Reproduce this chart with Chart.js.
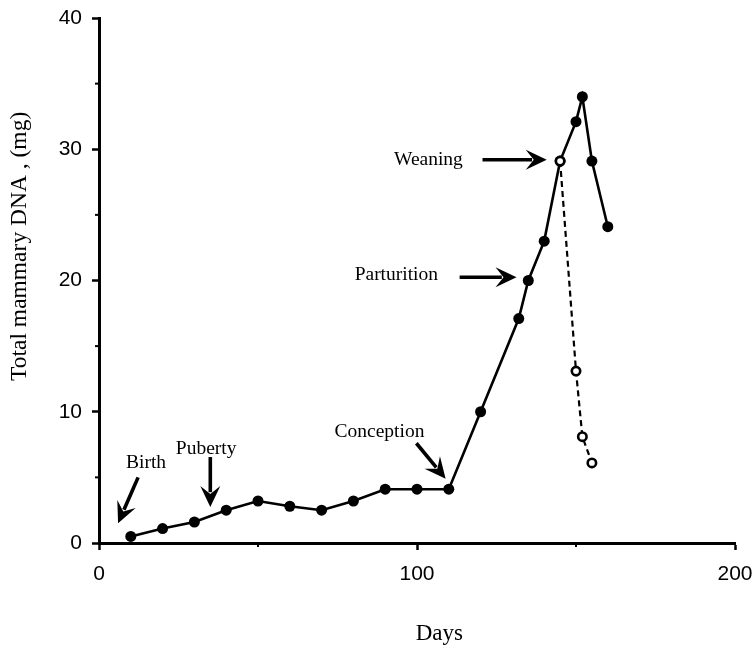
<!DOCTYPE html>
<html><head><meta charset="utf-8">
<script src="https://cdn.jsdelivr.net/npm/chart.js@4.4.1/dist/chart.umd.min.js"></script>
<style>html,body{margin:0;padding:0;background:#fff}</style>
</head><body>
<canvas id="c" width="753" height="647"></canvas>
<script>
// ---- data ----
const days = [10,20,30,40,50,60,70,80,90,100,110,120,132,135,140,145,150,152,155,160];
const dna  = [0.5,1.1,1.6,2.5,3.2,2.8,2.5,3.2,4.1,4.1,4.1,10,17.1,20,23,29.1,32.1,34,29.1,24.1];
const weanedDays = [145,150,152,155];
const weanedDna  = [29.1,13.1,8.1,6.1];
const xTicks = [0,100,200];
const yTicks = [0,10,20,30,40];
const xMinorTicks = [50,150];
const yMinorTicks = [5,15,25,35];
const eventNames = ['Birth','Puberty','Conception','Parturition','Weaning'];
const xTitle = 'Days';
const yTitle = 'Total mammary DNA , (mg)';

// annotation placement (data units): label x/y, arrow tail x/y, arrow head x/y
const eventPlacement = [
  [14.8, 6.1, 12.3, 5.0, 6.0, 1.5],
  [33.7, 7.2, 35.0, 6.55, 35.0, 2.75],
  [88.2, 8.5, 99.8, 7.6, 109.0, 4.9],
  [93.5, 20.4, 113.4, 20.25, 131.3, 20.25],
  [103.6, 29.2, 120.6, 29.2, 140.8, 29.2]
];

const serif = "'Liberation Serif','Times New Roman',serif";
const sans = "'Liberation Sans',Arial,sans-serif";

function drawArrow(ctx, x1, y1, x2, y2){
  const ang = Math.atan2(y2 - y1, x2 - x1);
  const L = 21, W = 20;
  ctx.save();
  ctx.strokeStyle = '#000'; ctx.fillStyle = '#000';
  ctx.lineWidth = 3.6;
  ctx.beginPath();
  ctx.moveTo(x1, y1);
  ctx.lineTo(x2 - Math.cos(ang) * L * 0.7, y2 - Math.sin(ang) * L * 0.7);
  ctx.stroke();
  ctx.translate(x2, y2); ctx.rotate(ang);
  ctx.beginPath();
  ctx.moveTo(0, 0); ctx.lineTo(-L, -W / 2); ctx.lineTo(-L * 0.62, 0); ctx.lineTo(-L, W / 2);
  ctx.closePath(); ctx.fill();
  ctx.restore();
}

const extras = {
  id: 'extras',
  afterDraw(chart){
    const {ctx, scales: {x, y}} = chart;
    ctx.save();
    // minor ticks
    ctx.strokeStyle = '#000'; ctx.lineWidth = 2;
    yMinorTicks.forEach(v => {
      const py = y.getPixelForValue(v);
      ctx.beginPath(); ctx.moveTo(x.left - 4, py); ctx.lineTo(x.left, py); ctx.stroke();
    });
    xMinorTicks.forEach(v => {
      const px = x.getPixelForValue(v);
      ctx.beginPath(); ctx.moveTo(px, y.bottom); ctx.lineTo(px, y.bottom + 4); ctx.stroke();
    });
    // axis titles
    ctx.fillStyle = '#000';
    ctx.textAlign = 'center'; ctx.textBaseline = 'middle';
    ctx.font = '23px ' + serif;
    ctx.fillText(xTitle, x.getPixelForValue(107), chart.height - 13);
    ctx.font = '23.5px ' + serif;
    ctx.translate(20, y.getPixelForValue(22.6));
    ctx.rotate(-Math.PI / 2);
    ctx.fillText(yTitle, 0, 0);
    ctx.restore();
    // annotations
    ctx.save();
    ctx.fillStyle = '#000';
    ctx.font = '19.5px ' + serif;
    ctx.textAlign = 'center'; ctx.textBaseline = 'middle';
    eventNames.forEach((name, i) => {
      const p = eventPlacement[i];
      ctx.fillText(name, x.getPixelForValue(p[0]), y.getPixelForValue(p[1]));
      drawArrow(ctx, x.getPixelForValue(p[2]), y.getPixelForValue(p[3]),
                     x.getPixelForValue(p[4]), y.getPixelForValue(p[5]));
    });
    ctx.restore();
  }
};

new Chart(document.getElementById('c'), {
  type: 'line',
  data: {
    datasets: [
      {
        data: weanedDays.map((d, i) => ({x: d, y: weanedDna[i]})),
        borderColor: '#000', borderWidth: 2.2, borderDash: [6, 4],
        pointRadius: 4.2, pointBackgroundColor: '#fff', pointBorderColor: '#000', pointBorderWidth: 2.6,
        tension: 0
      },
      {
        data: days.map((d, i) => ({x: d, y: dna[i]})),
        borderColor: '#000', borderWidth: 2.6,
        pointRadius: 5.5, pointBackgroundColor: '#000', pointBorderWidth: 0,
        tension: 0
      }
    ]
  },
  options: {
    responsive: false,
    animation: false,
    devicePixelRatio: 1,
    layout: {padding: {top: 18, right: 18, left: 0, bottom: 0}},
    plugins: {legend: {display: false}, tooltip: {enabled: false}},
    scales: {
      x: {
        type: 'linear', min: 0, max: 200,
        afterBuildTicks: s => { s.ticks = xTicks.map(v => ({value: v})); },
        afterFit: s => { s.height = 104; s.paddingLeft = 0; s.paddingRight = 0; },
        border: {display: true, color: '#000', width: 3},
        grid: {display: true, drawOnChartArea: false, drawTicks: true, tickLength: 7, tickColor: '#000', tickWidth: 2.5},
        ticks: {color: '#000', font: {family: sans, size: 21}, padding: 12, maxRotation: 0}
      },
      y: {
        type: 'linear', min: 0, max: 40,
        afterBuildTicks: s => { s.ticks = yTicks.map(v => ({value: v})); },
        afterFit: s => { s.width = 99; s.paddingTop = 0; s.paddingBottom = 0; },
        border: {display: true, color: '#000', width: 3},
        grid: {display: true, drawOnChartArea: false, drawTicks: true, tickLength: 7, tickColor: '#000', tickWidth: 2.5},
        ticks: {color: '#000', font: {family: sans, size: 21}, padding: 10}
      }
    }
  },
  plugins: [extras]
});
</script>
</body></html>
